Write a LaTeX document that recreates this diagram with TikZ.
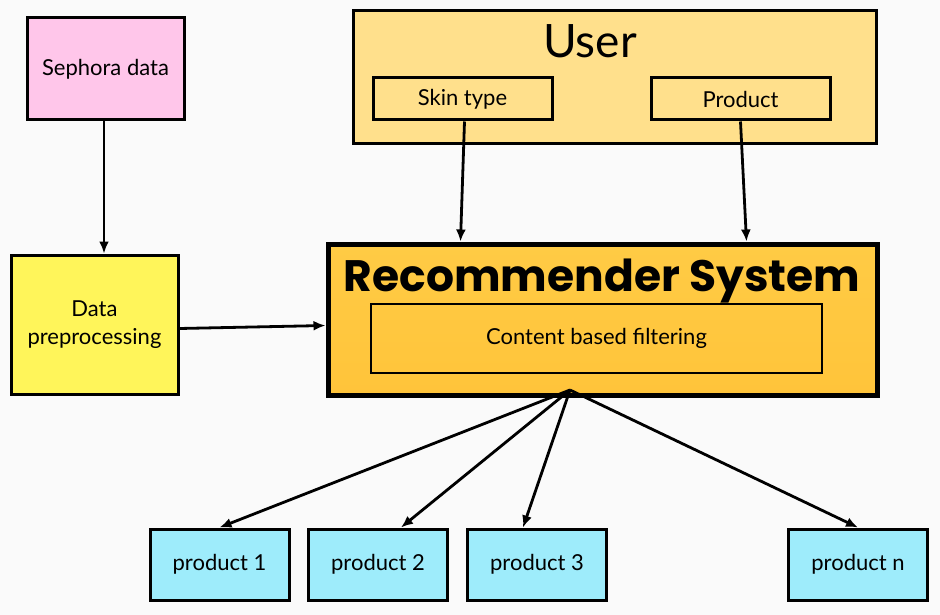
\documentclass[tikz,border=0pt]{standalone}
\usepackage{fontspec}
\setmainfont{Lato}
\newfontfamily\titlefont{Poppins}
\usetikzlibrary{arrows.meta,calc}
\definecolor{bg}{HTML}{FAFAFA}
\definecolor{pinkfill}{HTML}{FFC6EA}
\definecolor{yellowfill}{HTML}{FFF55A}
\definecolor{userfill}{HTML}{FFE08C}
\definecolor{rectop}{HTML}{FFCB45}
\definecolor{recbot}{HTML}{FFC43A}
\definecolor{prodfill}{HTML}{9EECFB}
\tikzset{
  box/.style={draw=black, line width=3pt, rectangle, inner sep=0pt, align=center, font=\fontsize{22}{28}\selectfont},
  conn/.style={line width=2.8pt, -{Latex[length=12pt,width=10pt]}},
  prodbox/.style={box, fill=prodfill, minimum width=139pt, minimum height=71pt},
}
\begin{document}
\begin{tikzpicture}[x=1pt,y=-1pt]
\fill[bg] (0,0) rectangle (940,615);
\useasboundingbox (0,0) rectangle (940,615);
\node[box, fill=pinkfill, minimum width=157pt, minimum height=102pt] (seph) at (105.5,69) {Sephora data};
\node[box, fill=yellowfill, minimum width=167pt, minimum height=139pt] (data) at (94.5,324.5) {Data\\preprocessing};
\node[box, fill=userfill, minimum width=523pt, minimum height=133pt] (user) at (614.5,77.5) {};
\node[font=\fontsize{46}{52}\selectfont, inner sep=0pt] (usertitle) at (590,41) {User};
\node[box, minimum width=179pt, minimum height=42pt] (skin) at (462.5,99) {Skin type};
\node[box, minimum width=179pt, minimum height=42pt] (prod) at (740.5,99) {Product};
\node[box, line width=5pt, top color=rectop, bottom color=recbot, minimum width=549pt, minimum height=151pt] (rec) at (602.5,319.5) {};
\node[font=\titlefont\fontsize{44}{50}\bfseries\selectfont, inner sep=0pt] (rectitle) at (602,281) {Recommender System};
\node[box, line width=2pt, minimum width=451pt, minimum height=69pt] (cbf) at (596.5,338.5) {Content based filtering};
\node[prodbox] (p1) at (219.5,564.5) {product 1};
\node[prodbox] (p2) at (378,564.5) {product 2};
\node[prodbox] (p3) at (537,564.5) {product 3};
\node[prodbox] (pn) at (858,564.5) {product n};
\coordinate (hub) at (570,390);
\draw[conn] (seph.south -| 104,0) -- (data.north -| 104,0);
\draw[conn] ([yshift=-4pt]data.east) -- ([yshift=-6pt]rec.west);
\draw[conn] ([xshift=2pt]skin.south) -- ([xshift=-2pt]skin.south |- rec.north);
\draw[conn] (prod.south) -- ([xshift=6pt]prod.south |- rec.north);
\draw[conn] (hub) -- (p1.north);
\draw[conn] (hub) -- ([xshift=23pt]p2.north);
\draw[conn] (hub) -- ([xshift=-14pt]p3.north);
\draw[conn] (hub) -- (pn.north);
\end{tikzpicture}
\end{document}
